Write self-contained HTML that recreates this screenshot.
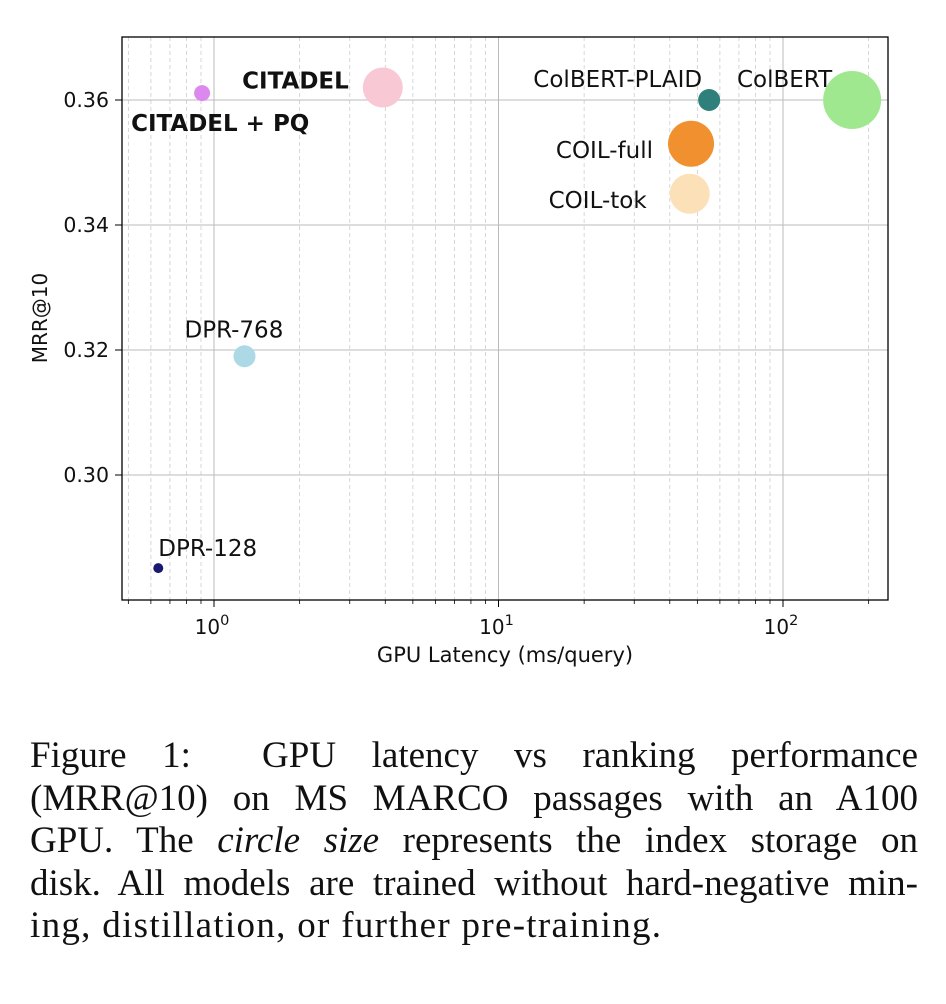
<!DOCTYPE html>
<html><head><meta charset="utf-8"><style>
body{margin:0;background:#fff;width:946px;height:1004px;overflow:hidden}
#cap{position:absolute;left:30px;top:735px;width:888px;font-family:"Liberation Serif",serif;font-size:37px;line-height:42.6px;color:#111}
#cap div{text-align:justify;text-align-last:justify;white-space:nowrap}
#cap div.last{text-align-last:left;letter-spacing:1.3px}
</style></head><body>
<svg id="chart" width="946" height="700" style="position:absolute;left:0;top:0" font-family="DejaVu Sans, Liberation Sans, sans-serif"></svg>
<div id="cap">
<div>Figure 1:&nbsp; GPU latency vs ranking performance</div>
<div>(MRR@10) on MS MARCO passages with an A100</div>
<div>GPU. The <i>circle size</i> represents the index storage on</div>
<div>disk. All models are trained without hard-negative min-</div>
<div class="last">ing, distillation, or further pre-training.</div>
</div>
<script>
const models=["DPR-128","CITADEL + PQ","DPR-768","CITADEL","ColBERT-PLAID","COIL-full","COIL-tok","ColBERT"];
const latency=[0.637,0.908,1.28,3.92,55,47.5,47,175];
const mrr=[0.2851,0.3611,0.319,0.362,0.360,0.353,0.345,0.360];
const radius=[5,8,11,20,11,23,20,29];
const yTicks=[0.30,0.32,0.34,0.36];
const xTicks=[1,10,100];
const xTickLabels=["0","1","2"];
const colors=["#191970","#dd88ee","#add8e6","#f8c8d4","#2f7f7a","#f0902e","#fbe0b8","#a0e890"];
const labelOff=[[0,-12,"start"],[-71,38,"start"],[-60,-19,"start"],[-34,1,"end"],[-7,-13,"end"],[-38,14,"end"],[-43,14,"end"],[-20,-13,"end"]];
const bold=[false,true,false,true,false,false,false,false];
const L=122,R=888,T=37,B=600;
const xs=v=>214+(Math.log10(v))*284.5;
const ys=v=>100+(0.36-v)*6250;
const svg=document.getElementById('chart');const NS="http://www.w3.org/2000/svg";
function mk(t,a,p){const e=document.createElementNS(NS,t);for(const k in a)e.setAttribute(k,a[k]);(p||svg).appendChild(e);return e;}
for(let d=-1;d<=2;d++)for(let m=2;m<=9;m++){const v=m*Math.pow(10,d);const x=xs(v);if(x<=L||x>=R)continue;
 const g=mk('line',{x1:x,x2:x,y1:T,y2:B,stroke:'#ccc','stroke-dasharray':'4,3','stroke-width':0.8});
 const t=mk('line',{x1:x,x2:x,y1:B,y2:B+4,stroke:'#000','stroke-width':0.8});}
xTicks.forEach((v,i)=>{const x=xs(v);
 const g=mk('line',{x1:x,x2:x,y1:T,y2:B,stroke:'#bbb','stroke-width':1});
 mk('line',{x1:x,x2:x,y1:B,y2:B+7,stroke:'#000'});
 const t=mk('text',{x:x-2,y:B+34,'text-anchor':'middle','font-size':20,fill:'#111'});
 t.innerHTML='10<tspan dy="-9" font-size="14.5">'+xTickLabels[i]+'</tspan>';});
yTicks.forEach(v=>{const y=ys(v);
 const g=mk('line',{x1:L,x2:R,y1:y,y2:y,stroke:'#bbb','stroke-width':1});
 mk('line',{x1:L-7,x2:L,y1:y,y2:y,stroke:'#000'});
 const t=mk('text',{x:L-13,y:y+7,'text-anchor':'end','font-size':20.5,fill:'#111'});t.textContent=v.toFixed(2);});
const fr=mk('rect',{x:L,y:T,width:R-L,height:B-T,fill:'none',stroke:'#000','stroke-width':1.3});
models.forEach((m,i)=>{const x=xs(latency[i]),y=ys(mrr[i]);
 const c=mk('circle',{cx:x,cy:y,r:radius[i],fill:colors[i]});
 const o=labelOff[i];const t=mk('text',{x:x+o[0],y:y+o[1],'text-anchor':o[2],'font-size':23,'font-weight':bold[i]?'bold':'normal',fill:'#111'});t.textContent=m;});
const xt=mk('text',{x:505,y:662,'text-anchor':'middle','font-size':21,fill:'#111'});xt.textContent='GPU Latency (ms/query)';
const yt=mk('text',{x:0,y:0,'text-anchor':'middle','font-size':20,fill:'#111',transform:'translate(47,318) rotate(-90)'});yt.textContent='MRR@10';
</script>
</body></html>
